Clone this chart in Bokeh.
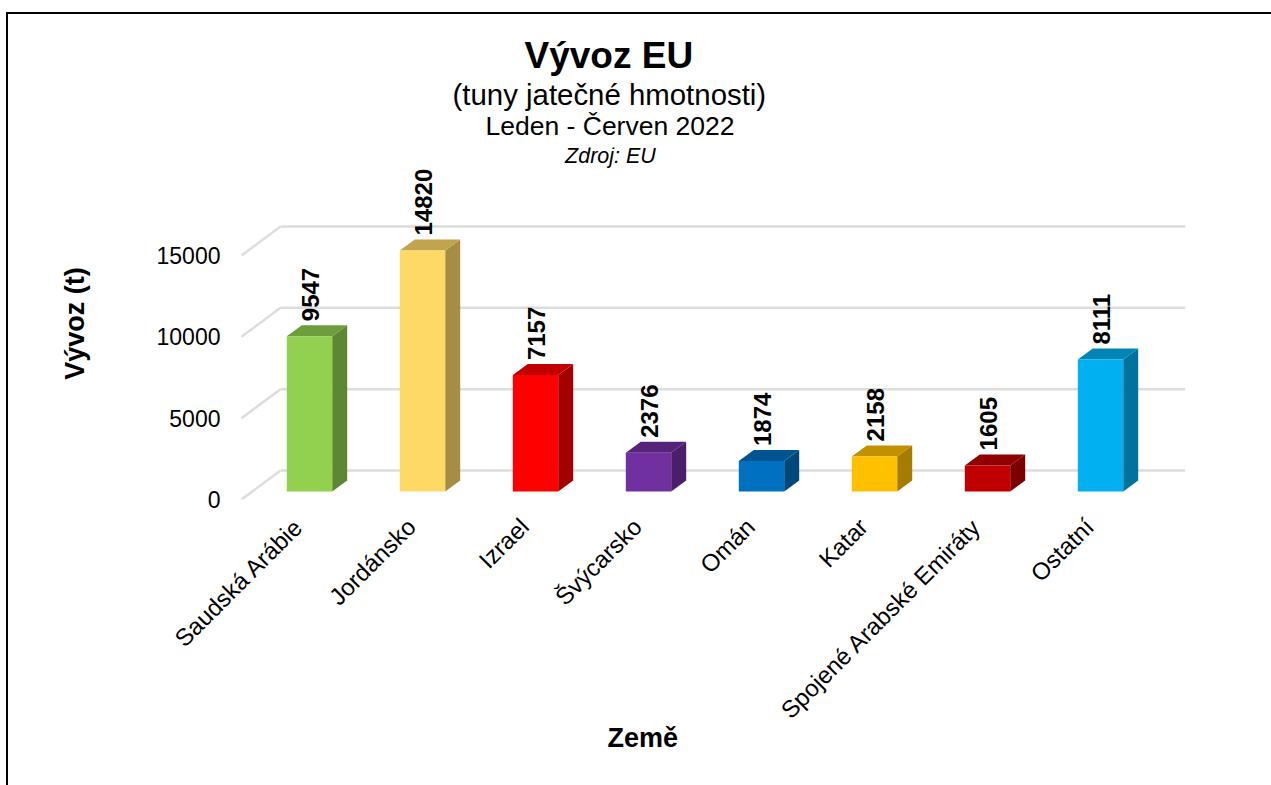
from math import pi
from bokeh.plotting import figure
from bokeh.embed import file_html
from bokeh.resources import INLINE
from bokeh.models import ColumnDataSource, FixedTicker, Label, Range1d, Title
from bokeh.core.properties import value

categories = ["Saudská Arábie", "Jordánsko", "Izrael", "Švýcarsko", "Omán", "Katar", "Spojené Arabské Emiráty", "Ostatní"]
values = [9547, 14820, 7157, 2376, 1874, 2158, 1605, 8111]
colors = ["#92D050", "#FFD966", "#FF0000", "#7030A0", "#0070C0", "#FFC000", "#C00000", "#00B0F0"]
y_ticks = [0, 5000, 10000, 15000]

FONT = "Liberation Sans"
FRAME_L, FRAME_R, FRAME_T, FRAME_B = 228, 1185, 147, 499
PX_X = 113.0
PX_Y = 244.0 / 15000
X0 = 298
BAR_SHIFT = 11 / PX_X
HALF_W = 22.7 / PX_X
DX = 15 / PX_X
DY = 11 / PX_Y
BASE = 8 / PX_Y
BACK = 29 / PX_Y
GRID_FRONT = (241 - X0) / PX_X
GRID_BACK = (280 - X0) / PX_X
GRID_END = (FRAME_R - X0) / PX_X


def shade(c, f):
    r, g, b = int(c[1:3], 16), int(c[3:5], 16), int(c[5:7], 16)
    return "#%02x%02x%02x" % (int(r * f), int(g * f), int(b * f))


border_css = ("linear-gradient(#000,#000) 6px 12px / 2px 100% no-repeat, "
              "linear-gradient(#000,#000) 6px 12px / 100% 2px no-repeat")

p = figure(width=1271, height=785, output_backend="svg", toolbar_location=None,
           x_range=Range1d((FRAME_L - X0) / PX_X, GRID_END), y_range=Range1d(0, (FRAME_B - FRAME_T) / PX_Y),
           frame_width=FRAME_R - FRAME_L, frame_height=FRAME_B - FRAME_T,
           min_border_left=FRAME_L, min_border_right=1271 - FRAME_R, min_border_top=FRAME_T,
           min_border_bottom=785 - FRAME_B,
           outline_line_color=None, background_fill_color=None, border_fill_color=None,
           styles={"background": border_css})
p.grid.visible = False

# grid
n = len(y_ticks)
p.segment(x0=[GRID_BACK] * n, x1=[GRID_END] * n, y0=[t + BACK for t in y_ticks], y1=[t + BACK for t in y_ticks],
          line_color="#dddddd", line_width=2.5)
p.segment(x0=[GRID_FRONT] * n, x1=[GRID_BACK] * n, y0=y_ticks, y1=[t + BACK for t in y_ticks],
          line_color="#dddddd", line_width=2.5)

# bars
xs = list(range(len(values)))
side_x, side_y, top_x, top_y, front_x, front_y = [], [], [], [], [], []
for i, v in zip(xs, values):
    c = i + BAR_SHIFT
    l, r, b, t = c - HALF_W, c + HALF_W, BASE, BASE + v
    side_x.append([r, r + DX, r + DX, r]); side_y.append([b, b + DY, t + DY, t])
    top_x.append([l, r, r + DX, l + DX]); top_y.append([t, t, t + DY, t + DY])
    front_x.append([l, r, r, l]); front_y.append([b, b, t, t])
p.patches(side_x, side_y, fill_color=[shade(c, 0.65) for c in colors], line_color=None)
p.patches(top_x, top_y, fill_color=[shade(c, 0.76) for c in colors], line_color=None)
p.patches(front_x, front_y, fill_color=colors, line_color=None)

# data labels
src = ColumnDataSource(dict(x=[i + BAR_SHIFT for i in xs], y=[v + BASE + DY for v in values], t=[str(v) for v in values]))
p.text(x="x", y="y", text="t", source=src, angle=pi / 2, text_align="left", text_baseline="middle",
       x_offset=1, y_offset=-4, text_font=value(FONT), text_font_style="bold", text_font_size="24px",
       text_color="black")

# axes
p.yaxis.ticker = FixedTicker(ticks=y_ticks)
p.yaxis.axis_line_color = None
p.yaxis.major_tick_line_color = None
p.yaxis.minor_tick_line_color = None
p.yaxis.major_label_text_font = FONT
p.yaxis.major_label_text_font_size = "23px"
p.yaxis.major_label_text_color = "black"
p.yaxis.major_label_standoff = 2
p.yaxis.axis_label = "Vývoz (t)"
p.yaxis.axis_label_text_font = FONT
p.yaxis.axis_label_text_font_size = "27px"
p.yaxis.axis_label_text_font_style = "bold"
p.yaxis.axis_label_text_color = "black"
p.yaxis.axis_label_standoff = 64

p.xaxis.ticker = FixedTicker(ticks=xs)
p.xaxis.major_label_overrides = {i: c for i, c in zip(xs, categories)}
p.xaxis.axis_line_color = None
p.xaxis.major_tick_line_color = None
p.xaxis.minor_tick_line_color = None
p.xaxis.major_label_orientation = pi / 4
p.xaxis.major_label_text_font = FONT
p.xaxis.major_label_text_font_size = "24px"
p.xaxis.major_label_text_color = "black"
p.xaxis.major_label_standoff = 17


def title(text, X, size, side, style="normal", standoff=0):
    p.add_layout(Title(text=text, align="left", offset=X - FRAME_L, text_font=FONT, text_font_size=size,
                       text_font_style=style, text_color="black", standoff=standoff), side)


title("Leden - Červen 2022", 485, "26.5px", "above", standoff=13)
title("(tuny jatečné hmotnosti)", 452, "29.4px", "above", standoff=-16)
title("Vývoz EU", 524, "37px", "above", "bold", standoff=16)
title("Země", 607, "27px", "below", "bold", standoff=-33)

p.add_layout(Label(x=610 - FRAME_L, y=FRAME_B - 155, x_units="screen", y_units="screen", text="Zdroj: EU",
                   text_align="center", text_baseline="middle", text_font=FONT, text_font_size="21.5px",
                   text_font_style="italic", text_color="black"))

open("out.html", "w").write(file_html(p, INLINE))
